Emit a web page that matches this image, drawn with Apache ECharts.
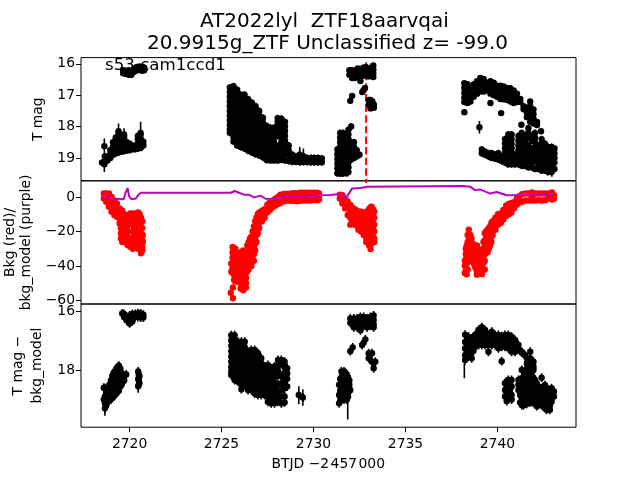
<!DOCTYPE html>
<html><head><meta charset="utf-8">
<script src="https://cdn.jsdelivr.net/npm/echarts@6/dist/echarts.min.js"></script>
<style>html,body{margin:0;background:#fff}#c{width:640px;height:480px}</style></head>
<body><div id="c"></div>
<script>
// column format: [BTJD-2457000+2457000 time, mag, mag, ...]
const xTicks=[2720,2725,2730,2735,2740];
const topTicks=[16,17,18,19];
const midTicks=[0,-20,-40,-60];
const botTicks=[16,18];
const flareTime=2732.86;

const topS1=[[2718.5,19.15],[2718.65,19.12,18.95],[2718.8,19.08,18.95],[2718.95,19,18.88,18.75],[2719.1,18.9,18.78,18.65,18.5],[2719.25,18.85,18.72,18.6,18.48,18.35],[2719.4,18.83,18.7,18.58,18.45,18.32,18.2],[2719.55,18.8,18.68,18.55,18.42],[2719.7,18.78,18.65,18.5,18.35,18.25],[2719.85,18.76,18.62,18.5],[2720,18.75,18.65,18.55],[2720.15,18.72,18.62],[2720.3,18.72,18.6],[2720.45,18.7,18.55,18.4,18.3],[2720.6,18.68,18.52,18.38,18.25],[2720.75,18.6,18.48]];
const topS1Up=[[2719.65,16.2,16.3],[2719.8,16.22,16.32],[2719.95,16.2,16.35],[2720.1,16.25,16.35],[2720.25,16.15,16.25],[2720.4,16.1,16.2],[2720.55,16.08,16.2],[2720.7,16.1,16.22],[2720.8,16.12,16.2]];
const topS2=[
[2725.45,16.75,16.9,17.05,17.2,17.35,17.5,17.65,17.8,17.95,18.1,18.2],
[2725.65,16.71,16.85,17,17.15,17.3,17.45,17.6,17.75,17.9,18.05,18.2,18.35,18.48],
[2725.85,16.82,16.97,17.12,17.27,17.42,17.57,17.72,17.87,18.02,18.17,18.32,18.47,18.6],
[2726.05,16.98,17.13,17.28,17.43,17.58,17.73,17.88,18.03,18.18,18.33,18.48,18.65],
[2726.25,16.98,17.13,17.28,17.43,17.58,17.73,17.88,18.03,18.18,18.33,18.48,18.6,18.7],
[2726.45,17.13,17.28,17.43,17.58,17.73,17.88,18.03,18.18,18.33,18.48,18.63,18.77],
[2726.65,17.24,17.39,17.54,17.69,17.84,17.99,18.14,18.29,18.44,18.59,18.74,18.83],
[2726.85,17.35,17.5,17.65,17.8,17.95,18.1,18.25,18.4,18.55,18.7,18.88],
[2727.05,17.5,17.65,17.8,17.95,18.1,18.25,18.4,18.55,18.7,18.85,18.92],
[2727.25,17.72,17.87,18.02,18.17,18.32,18.47,18.62,18.77,18.9,18.98],
[2727.45,17.98,18.13,18.28,18.43,18.58,18.73,18.88,19.07],
[2727.65,18.04,18.19,18.34,18.49,18.64,18.79,18.94,19.08],
[2727.85,18.04,18.19,18.34,18.49,18.64,18.79,18.94,19.08],
[2728.05,17.73,17.85,18.0,18.15,18.3,18.62,18.8,18.95,19.08],
[2728.25,17.75,17.9,18.05,18.2,18.35,18.5,18.7,18.9,19.06],
[2728.45,17.85,18,18.15,18.3,18.45,18.6,18.75,18.9,19.08],
[2728.65,18.6,18.75,18.9,19.1],
[2728.85,18.9,19.0,19.12],[2729.05,18.95,19.05,19.12],[2729.25,18.9,19.02,19.13],[2729.45,18.95,19.05,19.13],[2729.65,19,19.13],[2729.85,19,19.14],[2730.05,19,19.14],[2730.25,19,19.14],[2730.45,19.02,19.14]];
const topS3Low=[
[2731.3,18.73,18.88,19.03,19.18,19.33,19.49],
[2731.45,18.2,18.35,18.5,18.65,18.8,18.95,19.1,19.25,19.4,19.5],
[2731.6,18.2,18.35,18.5,18.65,18.8,18.95,19.1,19.25,19.4,19.5],
[2731.75,18.25,18.4,18.55,18.7,18.85,19,19.15,19.3,19.48],
[2731.9,18.1,18.25,18.4,18.55,18.7,18.85,19,19.15,19.3,19.45],
[2732.05,18,18.5,18.65,18.8,18.95,19.05],
[2732.2,18.5,18.65,18.8,19],[2732.35,18.75,18.95],[2732.5,18.9]];
const topS3Up=[[2731.95,16.2,16.35],[2732.1,16.2,16.33,16.45],[2732.25,16.22,16.35,16.45],[2732.4,16.15,16.28,16.4],[2732.55,16.2,16.3,16.42,16.55],[2732.7,16.12,16.25,16.38],[2732.85,16.1,16.22,16.35],[2733,16.15,16.28,16.4],[2733.15,16.12,16.25,16.38],[2733.25,16.05,16.18,16.3,16.42],
[2732.8,16.77],[2732.65,16.9],[2732.72,16.84],[2732.1,17.02],[2732,17.18],[2733,17.15,17.3],[2733.1,17.15,17.35,17.42],[2733.2,17.2,17.35],[2733.28,17.3,17.4]];
const topS4Up=[
[2738.2,16.62,16.77,16.92,17.07,17.22,17.54],[2738.37,16.65,16.8,16.95,17.1,17.25],[2738.53,16.75,16.9,17.05,17.2],[2738.71,16.65,16.8,16.95,17.05],[2738.89,16.55,16.7,16.85,16.95],[2739.07,16.45,16.6,16.75,16.88],[2739.25,16.48,16.62,16.77,16.88],[2739.44,16.6,16.72,16.85],[2739.62,16.55,16.7,16.85,16.95,17.25],[2739.8,16.6,16.75,16.9,17],[2739.98,16.7,16.82,16.95,17.05],[2740.16,16.7,16.85,17,17.12],[2740.34,16.72,16.88,17.02,17.13],[2740.52,16.78,16.9,17.05,17.15],[2740.7,16.78,16.92,17.05,17.2],[2740.88,16.85,17,17.15,17.25],[2741.06,16.95,17.1,17.22],[2741.24,17.12,17.22],[2741.42,17.35,17.45],[2741.6,17.4,17.55,17.7],[2741.78,17.2,17.35,17.5,17.7,17.85],[2741.96,17.45,17.6,17.75,17.9],[2742.15,17.85,17.95],[2740.2,17.57],[2741.3,17.94],[2742.37,18.15]];
const topS4Low=[
[2739.15,18.73,18.85],[2739.33,18.8,18.9],[2739.51,18.85,18.95],[2739.69,18.85,19],[2739.87,18.9,19.02],[2740.05,18.85,19.05],[2740.23,18.95,19.1],
[2740.41,18.4,18.55,18.7,18.85,19,19.15],[2740.59,18.25,18.4,18.55,18.7,18.85,19,19.2],[2740.77,18.25,18.4,18.55,18.7,18.85,19,19.2],[2740.95,18.9,19.05,19.2],
[2741.14,18.3,18.45,18.6,18.75,18.9,19.05,19.2],[2741.32,18.2,18.35,18.5,18.65,18.8,18.95,19.1,19.25],[2741.5,18.3,18.45,18.6,18.75,18.9,19.05,19.25],[2741.68,18.05,18.2,18.35,18.6,18.8,18.95,19.1,19.3],[2741.86,18.3,18.45,18.7,18.85,19,19.15,19.3],[2742.04,18.2,18.35,18.5,18.65,18.8,18.95,19.1,19.35],[2742.22,18.6,18.75,18.9,19.05,19.2,19.35],[2742.4,18.4,18.55,18.7,18.85,19,19.15,19.3,19.4],[2742.58,18.55,18.7,18.85,19,19.15,19.3,19.4],[2742.76,18.65,18.8,18.95,19.1,19.25,19.45],[2742.94,18.65,18.8,18.95,19.1,19.25,19.45],[2743.1,18.7,18.85,19,19.15,19.35]];
const topSpikes=[[2718.63,18.63,0.25],[2718.63,19.2,0.25],[2719.4,18.15,0.25],[2719.7,18.3,0.25],[2720.6,18.2,0.35],[2739.02,18.02,0.2],[2729.25,18.95,0.3],[2729.45,18.95,0.25],[2731.85,19.3,0.3],[2742.96,19.4,0.2]];

const midS1=[[2718.6,2.1,-0.8],[2718.73,2.1,-1,-2.7],[2718.88,2,-1,-4,-5.6],[2719.02,0,-3,-6,-8.5],[2719.17,-2,-5,-8,-10.4],[2719.31,-3.7,-6.5,-9,-11.4],[2719.46,-6.6,-9.5,-12.5,-15.3],[2719.6,-8,-11,-14,-17,-20,-23,-26],[2719.75,-10.5,-14,-17,-20,-23,-26],[2719.89,-10.5,-14,-17,-20,-23,-27.8],[2720.04,-9.5,-12,-15,-24,-28.8],[2720.18,-9.5,-12.5,-16,-20,-24,-28,-30],[2720.33,-9.5,-13,-17,-21,-25,-29],[2720.47,-9,-12,-16,-19,-23,-27,-30],[2720.62,-12,-15,-18,-21,-24,-28,-32.6],[2720.72,-22,-26],
[2719.53,-9,-12,-15,-18,-21,-24],[2719.67,-9.5,-13,-16,-19,-22,-25],[2719.82,-12,-15,-19,-22,-25],[2720.11,-10.5,-14,-25,-27],[2720.25,-11,-14,-18,-22,-26],[2720.4,-11,-15,-18,-21,-25,-28],[2720.55,-10,-14,-17,-20,-23,-26,-30],[2720.69,-14,-18,-25,-29,-31]];
const midS2=[[2725.53,-38.5,-43.3],[2725.6,-29,-32,-35,-38,-41,-44],[2725.75,-30,-33,-37,-40,-43,-46,-49],[2725.9,-38,-41,-44,-46,-49],[2726.04,-32,-35,-38,-41,-44,-47,-50,-53],[2726.18,-31,-35,-38,-42,-45,-48,-51,-54],[2726.33,-35,-38,-41,-44,-47,-50,-52.5],[2726.47,-26,-30,-33,-37,-40,-42],[2726.62,-23,-26,-30,-34,-38,-40],[2726.76,-17,-21,-25,-29,-33,-37],[2726.9,-12,-15,-18,-22,-26],[2727.05,-9,-12,-15,-18],[2727.2,-8,-11,-14],[2727.34,-7,-10,-12],[2727.49,-4.5,-7,-9],[2727.63,-3,-5.5,-7.5],[2727.78,-2,-4,-6],[2727.92,-1,-3,-5],[2728.07,0,-2,-4],[2728.2,1.3,-0.8,-3.5],[2728.4,1.8,-0.5,-2.5],[2728.57,1.8,0,-2],[2728.75,2,0,-2.2],[2728.93,2.2,0,-2.2],[2729.11,2.2,0,-2.5],[2729.3,2.5,0.3,-2.2],[2729.48,2.5,0,-2],[2729.66,2.5,0,-2],[2729.84,2.5,0,-2],[2730.02,2.5,0,-1.8],[2730.2,2.5,0,-1.8],[2730.3,2,-0.5,-1.5],[2725.62,-52.4],[2725.5,-55.5],[2725.62,-58.7],
[2725.68,-31,-35,-39,-42,-45,-48],[2725.82,-40,-43,-46,-48],[2725.97,-34,-37,-40,-43,-46,-49],[2726.11,-33,-36,-40,-43,-46,-49,-52],[2726.25,-33,-37,-40,-43,-46,-49,-52],[2726.4,-28,-32,-36,-39,-43],[2726.55,-24,-28,-32,-36,-39],[2726.69,-20,-24,-28,-32,-36],[2726.83,-14,-18,-23,-27,-31],[2726.97,-10,-14,-17,-21]];
const midS3=[[2731.43,1.3,-0.8],[2731.57,1,-2,-3.7],[2731.72,-1,-4,-6.6],[2731.86,-2.7,-6,-10.4],[2732,-4.6,-8,-12,-16],[2732.15,-6.6,-10,-14],[2732.29,-7.5,-11,-15,-16.2],[2732.44,-8.5,-12,-16,-19],[2732.58,-8.5,-12,-16,-20],[2732.73,-9.5,-13,-17,-22],[2732.87,-8.5,-12,-16,-20,-24,-26],[2733.02,-7,-11,-15,-19,-23,-27,-28],[2733.16,-5.6,-10,-14,-18,-22,-26,-27],[2733.3,-8.5,-12,-16,-20,-24,-26],[2733.1,-30.1],
[2732.08,-6,-9,-13],[2732.22,-7,-10,-13],[2732.36,-8,-12,-15],[2732.51,-10,-14,-18],[2732.65,-10,-14,-18],[2732.8,-10,-14,-18,-22],[2732.95,-9,-13,-17,-21,-25],[2733.09,-6,-9,-13,-17,-21,-25,-27],[2733.23,-7,-11,-15,-19,-23,-25]];
const midS4=[[2738.23,-37,-40,-44],[2738.33,-28,-31,-35,-38,-42,-44.8],[2738.44,-19,-23,-27,-31,-35],[2738.59,-24,-28,-32,-36],[2738.73,-30,-34,-38,-39],[2738.88,-28,-31,-35,-39,-43,-45],[2739.02,-32,-35,-39,-41],[2739.16,-33,-36,-40,-43,-44.6],[2739.31,-21,-25,-29,-33,-37,-42],[2739.46,-19,-23,-27,-32],[2739.6,-17,-21,-25,-28],[2739.74,-14,-18,-22],[2739.89,-12,-16,-19],[2740.03,-10,-13,-16],[2740.18,-9.5,-12,-15],[2740.32,-7.5,-10,-13],[2740.47,-5,-8,-11],[2740.61,-4,-7,-10],[2740.76,-3.5,-6,-9],[2740.9,-3,-6.5],[2741.05,-1,-4.5],[2741.19,0.5,-3.2],[2741.34,1.7,-2.7],[2741.52,2,-2],[2741.7,2,-2],[2741.88,2.7,0,-2],[2742.06,2,-2],[2742.24,2,-1.8],[2742.42,2,-2],[2742.6,2,-1.8],[2742.78,2,-0.8],[2742.96,2.7,0,-1.5],[2743.07,1,-1],
[2738.28,-30,-33,-36,-39,-43],[2738.38,-22,-26,-30,-34,-38,-42],[2738.52,-22,-26,-30,-34],[2738.66,-27,-31,-35,-37],[2738.8,-29,-33,-37,-41],[2738.95,-30,-33,-37,-41,-43],[2739.09,-34,-38,-42],[2739.24,-26,-30,-34,-38,-42],[2739.38,-20,-24,-28,-32],[2739.53,-18,-22,-26,-30],[2739.67,-15,-19,-23,-26]];
const modelT=[2718.54,2718.81,2719.17,2719.68,2719.77,2719.89,2719.98,2720.11,2720.34,2720.47,2720.62,2725.5,2725.72,2725.95,2726.22,2726.49,2726.76,2727.12,2727.39,2727.84,2728.38,2729.11,2729.84,2730.29,2730.92,2731.37,2731.79,2732.1,2732.55,2732.91,2738.15,2738.51,2738.78,2739.05,2739.6,2739.96,2740.5,2741.05,2741.4,2741.77,2742.13,2742.49,2742.85,2743.07];
const modelV=[0.6,-0.2,-1,-1.35,2.1,5.2,0.2,-1.35,-0.8,1.2,2.5,2.5,3.5,2.5,1.35,1.35,-0.2,0.8,-1,-1.2,0.2,0.8,0.2,1,1.2,1.7,-0.2,5,5.2,6,6.4,6,4,4.4,2,2.9,1,1.2,1.7,1.2,1.7,1.2,1.7,1.7];

const botS1=[[2718.6,18.6,19],[2718.66,18.62,18.9,19.13,19.3],[2718.8,18.7,18.85,19],[2718.99,18.35,18.55,18.75,18.95],[2719.13,18.1,18.3,18.5,18.7,18.9],[2719.28,17.95,18.15,18.35,18.55,18.8],[2719.42,17.85,18.05,18.25,18.45,18.7],[2719.57,18.1,18.3,18.5],[2719.71,18.2,18.35],[2719.82,18.15],[2720.47,18.05,18.3,18.55],[2720.54,18.2,18.45],
[2718.72,18.75,18.95,19.1,19.22],[2718.9,18.5,18.7,18.9,19.05],[2719.06,18.2,18.4,18.6,18.8,18.95],[2719.2,18.05,18.25,18.45,18.65,18.85],[2719.35,17.9,18.1,18.3,18.5,18.7],[2719.5,17.95,18.15,18.35,18.55],[2719.64,18.2,18.4],[2720.5,18.15,18.35,18.5]];
const botS1Up=[[2719.6,16.08],[2719.7,16.1,16.2],[2719.85,16.2,16.32],[2720,16.15,16.3,16.42],[2720.15,16.1,16.25,16.35],[2720.3,16.1,16.2],[2720.45,16.07,16.2],[2720.6,16.08,16.22],[2720.75,16.12,16.22]];
const botS2=[
[2725.53,16.82,17,17.18,17.36,17.54,17.72,17.9,18.05,18.17],
[2725.71,16.82,17,17.18,17.36,17.54,17.72,17.9,18.08,18.25,18.34],
[2725.9,17.04,17.22,17.4,17.58,17.76,17.94,18.12,18.3,18.4],
[2726.08,17.04,17.22,17.4,17.58,17.76,17.94,18.12,18.3,18.48,18.65],
[2726.26,17.04,17.22,17.4,17.58,17.76,17.94,18.12,18.3,18.5],
[2726.44,17.38,17.56,17.74,17.92,18.1,18.28,18.46,18.68],
[2726.62,17.32,17.5,17.68,17.86,18.04,18.22,18.4,18.55,18.68],
[2726.8,17.32,17.5,17.68,17.86,18.04,18.22,18.4,18.58,18.8],
[2726.98,17.43,17.6,17.78,17.96,18.14,18.32,18.5,18.68,18.85],
[2727.16,17.6,17.78,17.96,18.14,18.32,18.5,18.68,18.85],
[2727.34,17.88,18.06,18.24,18.42,18.6,18.85],
[2727.52,17.83,18,18.18,18.36,18.54,18.72,18.9,19.08],
[2727.7,17.94,18.12,18.3,18.48,18.66,18.84,19,19.13],
[2727.88,17.88,18.06,18.24,18.42,18.6,18.78,18.96,19.13],
[2728.07,17.66,17.84,18.02,18.2,18.5,18.7,18.9,19.08],
[2728.25,17.66,17.8,18.2,18.45,18.7,18.9,19.13],
[2728.43,17.72,17.9,18.08,18.26,18.44,18.62,18.9,19.1],
[2728.57,17.94,18.12,18.3,18.56],[2729.2,18.85],[2729.42,18.93]];
const botS3Low=[[2731.39,18.5,18.85,19.13],[2731.52,18.05,18.25,18.45,18.65,18.85,19],[2731.66,18.05,18.25,18.45,18.65,18.85,19],[2731.81,18.15,18.35,18.55,18.75,19],[2731.95,18.35,18.5,18.7],[2732,18.68],
[2731.45,18.3,18.5,18.7,18.9,19.05],[2731.59,18.15,18.35,18.55,18.75,18.95],[2731.73,18.1,18.3,18.5,18.7,18.9],[2731.88,18.25,18.45,18.6,18.9]];
const botS3Up=[[2732,16.25,16.4],[2732.19,16.25,16.4,16.55],[2732.37,16.25,16.42,16.55],[2732.55,16.2,16.35,16.5,16.65],[2732.73,16.2,16.35,16.5],[2732.91,16.25,16.38,16.55],[2733.09,16.2,16.35,16.5],[2733.27,16.15,16.3,16.45,16.55],[2732.82,16.96],[2732.64,17.15],[2732.73,17.07],[2732.13,17.23],[2732,17.36],[2733,17.43,17.6],[2733.18,17.43,17.72],[2733.36,17.72],[2733.27,17.94]];
const botS4Up=[[2738.24,16.8,17.05,17.27,17.5,17.66],[2738.42,16.87,17.1,17.32,17.55],[2738.6,16.93,17.15,17.38,17.6],[2738.78,16.81,17.04,17.21],[2738.97,16.64,16.81,16.98,17.15],[2739.15,16.55,16.76,16.96,17.15],[2739.33,16.64,16.81,16.98,17.15],[2739.51,16.81,16.98,17.15,17.38],[2739.69,16.7,16.87,17.04,17.15],[2739.87,16.81,16.98,17.15],[2740.05,16.81,16.98,17.15,17.26],[2740.23,16.85,17.04,17.21,17.7],[2740.41,16.81,16.98,17.21],[2740.59,16.81,17.04,17.26],[2740.77,16.87,17.1,17.38],[2740.96,16.98,17.21,17.38],[2741.14,17.15,17.3],[2741.32,17.38,17.41],[2741.5,17.5],[2741.6,17.6,17.77,17.94],[2741.78,17.38,17.6,17.83,18],[2741.96,17.72,17.89,18],
[2738.33,17,17.2,17.4],[2738.51,17.05,17.25,17.5],[2738.7,16.95,17.15,17.35]];
const botS4Low=[[2740.41,18.45,18.68,18.9],[2740.59,18.34,18.56,18.79],[2740.77,18.34,18.56,18.85,19],[2741.14,18.34,18.5,18.68],[2741.32,18,18.28,18.5,18.73,18.96,19.19],[2741.5,18.17,18.4,18.62,18.85,19.08],[2741.68,18.11,18.34,18.56],[2741.86,18.17,18.4,18.62,18.85,19.08],[2742.04,18.34,18.56,18.79,19.02],[2742.22,18.56,18.79,19.02,19.19],[2742.4,18.26,18.62,18.85,19.08],[2742.58,18.51,18.73,18.96,19.19],[2742.76,18.68,18.9,19.13,19.3],[2742.94,18.62,18.85,19.08],[2743.07,18.73,18.9],
[2740.5,18.4,18.6,18.8,19.05],[2740.68,18.45,18.7,18.95],[2741.23,18.4,18.6,18.85,19.1],[2741.41,18.3,18.5,18.75,19,19.2],[2741.59,18.25,18.45,18.7,18.9,19.15],[2741.77,18.3,18.5,18.75,18.95,19.1],[2741.95,18.25,18.45,18.7,18.9,19.1],[2742.13,18.45,18.65,18.9,19.1,19.22],[2742.31,18.7,18.95,19.15],[2742.49,18.6,18.8,19.05,19.25],[2742.67,18.6,18.8,19.05,19.25,19.35],[2742.85,18.75,19,19.2,19.35]];
const botSpikes=[[2720.47,18.55,0.22],[2729.2,18.85,0.3],[2729.42,18.93,0.28],[2731.86,19.38,0.3],[2738.2,18.03,0.25],[2718.66,19.3,0.25]];

const topErrSmall=0.05, topErr=0.11, botErr=0.15;
const points=(groups)=>groups.flat().flatMap(([t,...ms])=>ms.map(m=>[t,m]));
const withErr=(pts,e)=>pts.map(p=>[p[0],p[1],e]);
const topLoose=points([topS1Up,topS3Up,topS4Up]);
const topDense=points([topS1,topS2,topS3Low,topS4Low]);
const botAll=points([botS1,botS1Up,botS2,botS3Low,botS3Up,botS4Up,botS4Low]);
const redAll=points([midS1,midS2,midS3,midS4]);

const renderErr=(params,api)=>{
  const t=api.value(0),m=api.value(1),e=api.value(2);
  const a=api.coord([t,m-e]),b=api.coord([t,m+e]);
  return {type:'line',shape:{x1:a[0],y1:a[1],x2:b[0],y2:b[1]},style:{stroke:'#000',lineWidth:1.6}};
};
const errSeries=(idx,data)=>({type:'custom',xAxisIndex:idx,yAxisIndex:idx,renderItem:renderErr,data,encode:{x:0,y:1},clip:true,silent:true,z:3});
const dots=(idx,data,color)=>({type:'scatter',xAxisIndex:idx,yAxisIndex:idx,data,symbol:'circle',symbolSize:6.4,itemStyle:{color,opacity:1},silent:true,z:4,clip:true});

const font='"DejaVu Sans"';
const lab={color:'#000',fontFamily:font,fontSize:13.9};
const xAxisBase=(i,show)=>({gridIndex:i,type:'value',min:2717.36,max:2744.27,
  axisLine:{show:false},splitLine:{show:false},minorTick:{show:false},
  axisTick:{show,length:5,inside:false,lineStyle:{color:'#000',width:1},customValues:xTicks},
  axisLabel:{show,customValues:xTicks,formatter:v=>String(v),...lab,margin:10}});
const yAxisBase=(i,min,max,inverse,ticks,name,gap,lh)=>({gridIndex:i,type:'value',min,max,inverse,
  axisLine:{show:false},splitLine:{show:false},
  axisTick:{show:true,length:5,lineStyle:{color:'#000',width:1},customValues:ticks},
  axisLabel:{show:true,customValues:ticks,formatter:v=>String(v).replace('-','\u2212'),...lab,margin:6,padding:[5,0,0,0]},
  name,nameLocation:'middle',nameRotate:90,nameGap:gap,nameTextStyle:{...lab,lineHeight:lh}});
const gridBase={left:81,width:495,height:123.2,show:true,borderColor:'#000',borderWidth:1,backgroundColor:'transparent',outerBoundsMode:'none',containLabel:false};

const chart=echarts.init(document.getElementById('c'),null,{renderer:'canvas'});
chart.setOption({
  animation:false,backgroundColor:'#fff',
  title:{text:'AT2022lyl  ZTF18aarvqai \n20.9915g_ZTF Unclassified z= -99.0',left:322.5,top:5.5,textAlign:'center',
    textStyle:{fontFamily:font,fontSize:20,fontWeight:'normal',color:'#000',lineHeight:22}},
  graphic:[{type:'text',left:105,top:57,z:1,style:{text:'s53 cam1ccd1',font:'16.67px "DejaVu Sans"',fill:'#000'}},
    {type:'text',left:271.5,top:457,style:{text:'BTJD \u22122\u200a457\u200a000',font:'13.9px "DejaVu Sans"',fill:'#000'}}],
  grid:[{...gridBase,top:57.6},{...gridBase,top:180.8},{...gridBase,top:304}],
  xAxis:[xAxisBase(0,false),xAxisBase(1,false),xAxisBase(2,true)],
  yAxis:[yAxisBase(0,15.8,19.73,true,topTicks,'T mag',32,16.5),
         yAxisBase(1,-62,9.4,false,midTicks,'Bkg (red)/\nbkg_model (purple)',44,16.5),
         yAxisBase(2,15.76,19.94,true,botTicks,'T mag \u2212\nbkg_model',30,18.5)],
  series:[
    {type:'line',xAxisIndex:0,yAxisIndex:0,data:[[flareTime,15.95],[flareTime,19.8]],showSymbol:false,clip:false,z:2,silent:true,
      lineStyle:{color:'#ff0000',width:2,type:[7.4,3.2]}},
    errSeries(0,withErr(topLoose,topErrSmall)),
    errSeries(0,withErr(topDense,topErr)),
    errSeries(0,topSpikes),
    dots(0,topDense.concat(topLoose).concat(topSpikes.map(p=>[p[0],p[1]])),'#000'),
    dots(1,redAll,'#ff0000'),
    {type:'line',xAxisIndex:1,yAxisIndex:1,data:modelT.map((t,i)=>[t,modelV[i]]),showSymbol:false,z:5,silent:true,
      lineStyle:{color:'#bf00bf',width:2}},
    errSeries(2,withErr(botAll,botErr)),
    errSeries(2,botSpikes),
    dots(2,botAll,'#000')
  ]
});
</script></body></html>
